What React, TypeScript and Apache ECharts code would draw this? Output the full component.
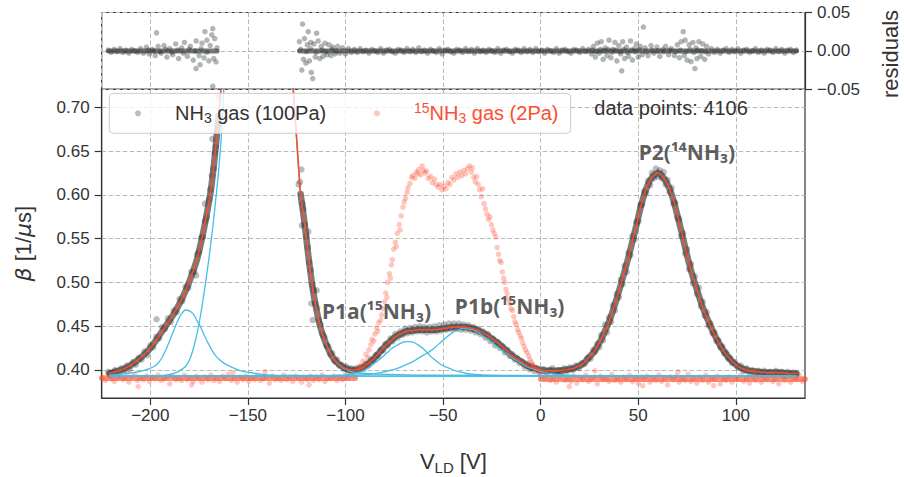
import React, { useEffect, useRef } from "react";
import * as echarts from "echarts";

// ---------------- data ----------------
const xTickValues = [-200, -150, -100, -50, 0, 50, 100];
const betaTickValues = [0.4, 0.45, 0.5, 0.55, 0.6, 0.65, 0.7];
const residualTickValues = [-0.05, 0, 0.05];
const X_MIN = -224.9;
const X_MAX = 135.4;
const BETA_MIN = 0.368;
const BETA_MAX = 0.7206;
const dataPointsCount = 4106;

// NH3 gas (100Pa) measured points (sampled from the dense cloud)
const nh3Data: number[][] = [
  [-221.5, 0.398], [-220.5, 0.394], [-219.5, 0.397], [-218, 0.4], [-216.5, 0.396], [-215, 0.402], [-213.5, 0.399], [-212, 0.405],
  [-210.5, 0.401], [-209, 0.409], [-207.5, 0.406], [-206, 0.414], [-204.5, 0.412], [-203, 0.421], [-201.5, 0.417], [-200, 0.428],
  [-198.5, 0.426], [-197, 0.438], [-196.8, 0.458], [-195.5, 0.436], [-194, 0.449], [-192.5, 0.447], [-191, 0.459], [-189.5, 0.455],
  [-188, 0.468], [-186.5, 0.466], [-185, 0.481], [-183.5, 0.479], [-182, 0.495], [-180.5, 0.494], [-179, 0.512], [-177.5, 0.512],
  [-176.6, 0.508], [-176, 0.532], [-175, 0.535], [-174, 0.551], [-173, 0.552], [-172, 0.59], [-172, 0.57], [-171, 0.574],
  [-170, 0.595], [-169.3, 0.606], [-168.5, 0.622], [-168.2, 0.664], [-167.6, 0.63], [-167, 0.648], [-166.5, 0.655], [-166, 0.672],
  [-165.5, 0.68], [-165.1, 0.712],
  [-124, 0.612], [-123.3, 0.615], [-122.6, 0.629], [-122.4, 0.565], [-122, 0.59], [-121.5, 0.584], [-120.8, 0.566], [-120, 0.552],
  [-119.3, 0.54], [-119.1, 0.558], [-118.6, 0.523], [-117.8, 0.514], [-117.5, 0.476], [-117, 0.497], [-116.8, 0.457], [-116.2, 0.491],
  [-115.4, 0.476], [-114.8, 0.491], [-114.5, 0.471], [-113.6, 0.457], [-112.7, 0.452], [-111.8, 0.441], [-110.8, 0.438], [-109.8, 0.428],
  [-108.8, 0.427], [-107.8, 0.418], [-106.8, 0.419], [-105.6, 0.41], [-104.4, 0.412], [-103.2, 0.405], [-102, 0.406], [-100.8, 0.401],
  [-99.5, 0.404], [-98.2, 0.399], [-97, 0.402], [-95.8, 0.398],
  [-94.5, 0.402], [-93.2, 0.399], [-92, 0.404], [-90.8, 0.401], [-89.5, 0.407], [-88.3, 0.405], [-87, 0.412], [-85.8, 0.411],
  [-84.5, 0.417], [-83.3, 0.416], [-82, 0.423], [-80.8, 0.422], [-79.5, 0.43], [-78.3, 0.428], [-77, 0.436], [-75.8, 0.433],
  [-74.5, 0.441], [-73.3, 0.437], [-72, 0.444], [-70.8, 0.44], [-69.5, 0.447], [-68.3, 0.442], [-67, 0.448], [-65.8, 0.443],
  [-64.5, 0.449], [-63.3, 0.444], [-62, 0.45], [-60.8, 0.444], [-59.5, 0.449], [-58.3, 0.443], [-57, 0.449], [-55.8, 0.444],
  [-54.5, 0.45], [-53.3, 0.444], [-52, 0.451], [-50.8, 0.445], [-49.5, 0.452], [-48.3, 0.446], [-47, 0.453], [-45.8, 0.447],
  [-44.5, 0.453], [-43.3, 0.447], [-42, 0.453], [-40.8, 0.446], [-39.5, 0.452], [-38.3, 0.446], [-37, 0.451], [-35.8, 0.445],
  [-34.5, 0.449], [-33.3, 0.443], [-32, 0.447], [-30.8, 0.441], [-29.5, 0.444], [-28.3, 0.437], [-27, 0.441], [-25.8, 0.433],
  [-24.5, 0.436], [-23.3, 0.428], [-22, 0.432], [-20.8, 0.425], [-19.5, 0.427], [-18.3, 0.42], [-17, 0.423], [-15.8, 0.416],
  [-14.5, 0.418], [-13.3, 0.412], [-12, 0.413], [-10.8, 0.408], [-9.5, 0.41], [-8.3, 0.404], [-7, 0.407], [-5.8, 0.401],
  [-4.5, 0.405], [-3.3, 0.399], [-2, 0.402], [-0.8, 0.398],
  [1.5, 0.401], [3, 0.397], [4.5, 0.4], [6, 0.402], [7.5, 0.397], [9, 0.4], [10.5, 0.398], [12, 0.402],
  [13.5, 0.399], [15, 0.403], [16.5, 0.4], [18, 0.405], [19.5, 0.402], [21, 0.408], [22.5, 0.407], [24, 0.414],
  [25.5, 0.413], [27, 0.423], [28, 0.421], [29, 0.43], [30, 0.426], [31, 0.44], [32, 0.434], [33, 0.452],
  [34, 0.443], [35, 0.46], [36, 0.455], [37, 0.474], [38, 0.468], [39, 0.487], [40, 0.483], [41, 0.503],
  [42, 0.498], [43, 0.519], [44, 0.512], [45, 0.534], [46, 0.531], [47, 0.553], [48, 0.549], [49, 0.569],
  [50, 0.57], [51, 0.588], [52, 0.589], [53, 0.604], [54, 0.602], [55, 0.616], [56, 0.611], [57, 0.625],
  [58, 0.619], [59, 0.63], [60, 0.621], [61, 0.628], [62, 0.619], [63, 0.626], [64, 0.612], [65, 0.617],
  [66, 0.603], [67, 0.608], [68, 0.59], [69, 0.591], [70, 0.574], [71, 0.572], [72, 0.553], [73, 0.556],
  [74, 0.533], [75, 0.538], [76, 0.515], [77, 0.521], [78, 0.499], [79, 0.507], [80, 0.487], [81, 0.494],
  [82, 0.473], [83, 0.478], [84, 0.462], [85, 0.466], [86, 0.451], [87, 0.453], [88, 0.442], [89, 0.443],
  [90, 0.433], [91, 0.434], [92, 0.426], [93, 0.427], [94, 0.419], [95, 0.42], [96, 0.413], [97, 0.414],
  [98, 0.408], [99.5, 0.409], [101, 0.403], [102.5, 0.405], [104, 0.399], [105.5, 0.402], [107, 0.397], [108.5, 0.4],
  [110, 0.396], [111.5, 0.399], [113, 0.395], [114.5, 0.399], [116, 0.396], [117.5, 0.398], [119, 0.395], [120.5, 0.399],
  [122, 0.396], [123.5, 0.398], [125, 0.394], [126.5, 0.398], [128, 0.395], [129.5, 0.397], [131, 0.395],
];

// 15NH3 gas (2Pa) measured points
const n15Data: number[][] = [
  [-224.5, 0.392], [-223, 0.388], [-221.5, 0.394], [-220, 0.39], [-218.5, 0.387], [-217, 0.391], [-215.5, 0.393], [-214, 0.389],
  [-212.5, 0.391], [-211, 0.386], [-209.5, 0.392], [-208, 0.395], [-206.5, 0.388], [-205, 0.391], [-203.5, 0.389], [-202, 0.393],
  [-200.5, 0.387], [-199, 0.392], [-197.5, 0.39], [-196, 0.394], [-194.5, 0.388], [-193, 0.39], [-191.5, 0.392], [-190, 0.384],
  [-188.5, 0.393], [-187, 0.389], [-185.5, 0.391], [-184, 0.388], [-182.5, 0.394], [-181, 0.389], [-179.5, 0.391], [-178, 0.387],
  [-176.5, 0.393], [-175, 0.39], [-173.5, 0.386], [-172, 0.392], [-170.5, 0.389], [-169, 0.394], [-167.5, 0.388], [-166, 0.391],
  [-164.5, 0.387], [-163, 0.393], [-161.5, 0.39], [-160, 0.395], [-158.5, 0.388], [-157, 0.391], [-155.5, 0.386], [-154, 0.392],
  [-152.5, 0.389], [-151, 0.393], [-149.5, 0.387], [-148, 0.391], [-146.5, 0.389], [-145, 0.394], [-143.5, 0.388], [-142, 0.39],
  [-140.5, 0.392], [-139, 0.385], [-137.5, 0.393], [-136, 0.389], [-134.5, 0.391], [-133, 0.388], [-131.5, 0.394], [-130, 0.389],
  [-128.5, 0.392], [-127, 0.387], [-125.5, 0.393], [-124, 0.39], [-122.5, 0.386], [-121, 0.391], [-119.5, 0.389], [-118, 0.393],
  [-116.5, 0.388], [-115, 0.392], [-113.5, 0.389], [-112, 0.394], [-110.5, 0.387], [-109, 0.391], [-107.5, 0.39], [-106, 0.393],
  [-104.5, 0.388], [-103, 0.392], [-101.5, 0.389], [-100, 0.394], [-98.5, 0.391], [-97, 0.395], [-95.5, 0.393],
  [-206.2, 0.381], [-211.8, 0.397], [-178.8, 0.383], [-141.2, 0.398], [-118.7, 0.383], [-157.6, 0.397],
  [-94, 0.399], [-93, 0.404], [-92, 0.402], [-91, 0.41], [-90, 0.407], [-89.5, 0.418], [-88.5, 0.414], [-88, 0.423],
  [-87, 0.429], [-86.5, 0.435], [-85.5, 0.433], [-85, 0.441], [-84, 0.448], [-83.5, 0.444], [-83, 0.454], [-82, 0.457],
  [-81.5, 0.463], [-81, 0.47], [-80, 0.478], [-79.4, 0.488], [-78.8, 0.483], [-78.5, 0.5], [-77.5, 0.51], [-77, 0.505],
  [-76.5, 0.52], [-76, 0.526], [-75.3, 0.538], [-74.5, 0.546], [-74, 0.541], [-73.5, 0.556], [-72.5, 0.566], [-72, 0.56],
  [-71.5, 0.576], [-70.5, 0.586], [-70, 0.592], [-69.2, 0.596], [-68.5, 0.603], [-68, 0.608], [-67, 0.613], [-66.2, 0.62],
  [-65.5, 0.622], [-64.5, 0.619], [-63.8, 0.626], [-63, 0.624], [-62.5, 0.629], [-61.5, 0.623], [-60.8, 0.633], [-60, 0.628],
  [-59.3, 0.625], [-58.5, 0.627], [-57.6, 0.619], [-56.5, 0.621], [-55.5, 0.614], [-54.5, 0.618], [-53.5, 0.612], [-52.5, 0.609],
  [-51.5, 0.612], [-50.5, 0.606], [-49.5, 0.61], [-48.5, 0.607], [-47.5, 0.614], [-46.5, 0.612], [-45.5, 0.62], [-44.5, 0.617],
  [-43.5, 0.624], [-42.5, 0.62], [-41.5, 0.626], [-40.5, 0.622], [-39.5, 0.628], [-38.5, 0.624], [-37.5, 0.63], [-36.5, 0.633],
  [-35.5, 0.626], [-35, 0.631], [-34.3, 0.62], [-33.5, 0.615], [-32.8, 0.621], [-32, 0.612], [-31.3, 0.606], [-30.5, 0.598],
  [-29.8, 0.607], [-29, 0.59], [-28.3, 0.584], [-27.5, 0.578], [-26.8, 0.572], [-26, 0.575], [-25.2, 0.566], [-24.5, 0.56],
  [-23.8, 0.556], [-23, 0.552], [-22.3, 0.54], [-21.6, 0.532], [-21, 0.525], [-20.3, 0.523], [-19.6, 0.512], [-19, 0.505],
  [-18.4, 0.5], [-17.8, 0.492], [-17.2, 0.487], [-16.5, 0.481], [-15.8, 0.476], [-15.2, 0.47], [-14.5, 0.468], [-13.8, 0.461],
  [-13.2, 0.455], [-12.5, 0.452], [-11.8, 0.446], [-11.2, 0.443], [-10.5, 0.439], [-9.8, 0.436], [-9.2, 0.431], [-8.5, 0.427],
  [-7.8, 0.423], [-7, 0.42], [-6.2, 0.416], [-5.5, 0.412], [-4.8, 0.409], [-4, 0.406], [-3.2, 0.403], [-2.5, 0.401],
  [-1.5, 0.399], [-0.5, 0.397],
  [0.5, 0.393], [2, 0.39], [3.5, 0.394], [5, 0.388], [6.5, 0.391], [8, 0.386], [9.5, 0.392], [11, 0.395],
  [12.5, 0.388], [14, 0.391], [15.5, 0.387], [17, 0.393], [18.5, 0.385], [20, 0.392], [21.5, 0.389], [23, 0.394],
  [24.5, 0.387], [26, 0.39], [27.5, 0.392], [29, 0.384], [30.5, 0.393], [32, 0.389], [33.5, 0.391], [35, 0.387],
  [36.5, 0.395], [38, 0.388], [39.5, 0.391], [41, 0.386], [42.5, 0.392], [44, 0.389], [45.5, 0.394], [47, 0.387],
  [48.5, 0.39], [50, 0.385], [51.5, 0.392], [53, 0.389], [54.5, 0.393], [56, 0.386], [57.5, 0.391], [59, 0.388],
  [60.5, 0.394], [62, 0.387], [63.5, 0.39], [65, 0.383], [66.5, 0.392], [68, 0.389], [69.5, 0.393], [71, 0.386],
  [72.5, 0.391], [74, 0.388], [75.5, 0.395], [77, 0.387], [78.5, 0.39], [80, 0.385], [81.5, 0.392], [83, 0.388],
  [84.5, 0.394], [86, 0.386], [87.5, 0.391], [89, 0.389], [90.5, 0.393], [92, 0.384], [93.5, 0.39], [95, 0.388],
  [96.5, 0.392], [98, 0.386], [99.5, 0.391], [101, 0.389], [102.5, 0.394], [104, 0.387], [105.5, 0.39], [107, 0.385],
  [108.5, 0.392], [110, 0.388], [111.5, 0.393], [113, 0.386], [114.5, 0.391], [116, 0.389], [117.5, 0.394], [119, 0.387],
  [120.5, 0.39], [122, 0.384], [123.5, 0.392], [125, 0.388], [126.5, 0.393], [128, 0.386], [129.5, 0.391], [131, 0.389],
  [132.5, 0.394], [134, 0.387], [135, 0.39],
  [14.6, 0.381], [27.8, 0.399], [52.3, 0.382], [70.4, 0.398], [88.6, 0.382], [109.3, 0.398],
];

// dense core of the 15NH3 cloud on its flat baseline (null = no baseline there)
const n15BaselineCore: (number | null)[][] = [
  [-224.9, 0.3905], [-95, 0.3905], [-50, null], [0, 0.3895], [135.4, 0.3895],
];

// residuals of the NH3 fit
const residualData: number[][] = [
  [-221.5, 0.001], [-220, -0.002], [-218.5, 0.002], [-217, -0.001], [-215.5, 0.003], [-214, -0.002], [-212.5, 0.001], [-211, -0.003],
  [-209.5, 0.002], [-208, 0.0], [-206.5, -0.002], [-205, 0.003],
  [-203.5, -0.003], [-202, 0.005], [-201, 0.001], [-200.5, -0.004], [-199, 0.002], [-198, 0.0], [-197.5, -0.006], [-196.8, 0.0235],
  [-196, 0.006], [-195, -0.001], [-194.5, -0.003], [-193, 0.007], [-192, 0.002], [-191.5, -0.008], [-190, 0.003], [-189, -0.002],
  [-188.5, -0.005], [-187, 0.009], [-186, 0.001], [-185.5, -0.01], [-184, 0.004], [-183, -0.003], [-182.5, 0.011], [-181, -0.007],
  [-180, 0.002], [-179.5, 0.006], [-178, -0.012], [-177, 0.0], [-176.6, -0.023], [-176.5, 0.013], [-175, -0.006], [-174.5, -0.018],
  [-174, 0.003], [-173.5, 0.01], [-172.5, -0.009], [-172, 0.025], [-171, 0.014], [-171, -0.002], [-170, -0.013], [-169.3, 0.007],
  [-168.5, 0.021], [-168, 0.029], [-168, -0.046], [-167.5, -0.01], [-167, 0.016], [-166.3, -0.0144], [-165.8, 0.004],
  [-123.6, 0.012], [-123, 0.002], [-122.4, -0.025], [-122, 0.035], [-121.5, -0.011], [-121, 0.016], [-120.3, -0.016], [-120, -0.001],
  [-119.6, 0.008], [-119.1, 0.025], [-118.5, -0.013], [-118, 0.003], [-117.8, 0.011], [-117.5, -0.028], [-116.8, -0.036], [-116.2, 0.009],
  [-115.5, -0.008], [-115, -0.002], [-114.8, 0.023], [-114, 0.013], [-113.2, -0.01], [-112.4, 0.006], [-112, 0.001], [-111.5, -0.007],
  [-110.5, 0.01], [-110, -0.001], [-109.5, -0.005], [-108.5, 0.008], [-107.5, -0.006], [-107, 0.002], [-106.5, 0.005], [-105.3, -0.004],
  [-104.8, 0.0], [-104, 0.006], [-102.8, -0.003], [-101.5, 0.004], [-100, -0.004], [-98.5, 0.003], [-97, -0.002],
  [-95.5, 0.002], [-94, -0.002], [-92.5, 0.003], [-91, -0.001], [-89.5, 0.001], [-88, -0.003], [-86.5, 0.002], [-85, 0.0],
  [-83.5, -0.002], [-82, 0.003], [-80.5, -0.003], [-79, 0.001], [-77.5, 0.002], [-76, -0.001], [-74.5, -0.003], [-73, 0.002],
  [-71.5, 0.001], [-70, -0.002], [-68.5, 0.003], [-67, -0.001], [-65.5, 0.002], [-64, -0.002], [-62.5, 0.004], [-61, -0.001],
  [-59.5, 0.001], [-58, -0.003], [-56.5, 0.002], [-55, 0.0], [-53.5, -0.002], [-52, 0.003], [-50.5, -0.004], [-49, 0.001],
  [-47.5, 0.002], [-46, -0.001], [-44.5, -0.003], [-43, 0.002], [-41.5, 0.001], [-40, -0.002], [-38.5, 0.003], [-37, -0.001],
  [-35.5, 0.002], [-34, -0.003], [-32.5, 0.003], [-31, -0.001], [-29.5, 0.001], [-28, -0.002], [-26.5, 0.002], [-25, 0.0],
  [-23.5, -0.002], [-22, 0.003], [-20.5, -0.003], [-19, 0.001], [-17.5, 0.002], [-16, -0.001], [-14.5, -0.003], [-13, 0.002],
  [-11.5, 0.001], [-10, -0.002], [-8.5, 0.003], [-7, -0.001], [-5.5, 0.002], [-4, -0.002], [-2.5, 0.003], [-1, -0.001],
  [0.5, 0.001], [2, -0.003], [3.5, 0.002], [5, 0.0], [6.5, -0.002], [8, 0.003], [9.5, -0.003], [11, 0.001],
  [12.5, 0.002], [14, -0.001], [15.5, -0.003], [17, 0.002], [18.5, 0.001], [20, -0.002], [21.5, 0.003], [23, -0.001],
  [24.5, 0.002],
  [26, -0.004], [26.5, 0.001], [27, 0.006], [28, -0.008], [28.5, -0.001], [29, 0.01], [30, -0.003], [30.5, 0.002],
  [31, 0.012], [32, -0.011], [32.5, 0.0], [33, 0.004], [34, -0.006], [34.5, 0.002], [35, 0.014], [36, -0.009],
  [36.5, -0.002], [37, 0.002], [38, 0.011], [38.5, 0.001], [39, -0.013], [40, 0.007], [40.5, -0.001], [41, -0.004],
  [41.5, -0.026], [42, 0.012], [42.5, 0.002], [43, -0.01], [44, 0.005], [44.5, -0.002], [45, -0.007], [46, 0.013],
  [46.5, 0.001], [47, -0.012], [48, 0.003], [48.5, -0.001], [49, 0.009], [50, -0.008], [50.5, 0.002], [51, 0.006],
  [52, -0.005], [52.6, 0.031],
  [53.5, 0.004], [54, -0.001], [55, -0.006], [56.5, 0.007], [57, 0.001], [58, -0.003], [59.5, 0.005], [60, 0.0],
  [61, -0.007], [62.5, 0.002], [63, -0.001], [64, 0.006], [65.5, -0.005], [66, 0.001], [67, 0.003], [68.5, -0.006],
  [69, -0.001], [70, 0.008],
  [71, -0.009], [71.5, 0.001], [72, 0.012], [73, 0.025], [73.5, -0.006], [74, 0.014], [74.5, -0.001], [75, -0.012],
  [76, 0.008], [76.5, 0.002], [77, -0.014], [78, 0.011], [78.5, -0.002], [79, -0.023], [79.5, 0.004], [80, -0.01],
  [80.5, 0.001], [81, 0.012], [82, -0.007], [82.5, 0.0], [83, 0.009], [84, -0.011], [84.5, -0.001], [85, 0.006],
  [86, -0.004],
  [87.5, 0.003], [89, -0.002], [90.5, 0.002], [92, -0.003], [93.5, 0.001], [95, 0.003], [96.5, -0.002], [98, 0.002],
  [99.5, -0.001], [101, 0.003], [102.5, -0.003], [104, 0.001], [105.5, 0.002], [107, -0.002], [108.5, 0.0], [110, 0.003],
  [111.5, -0.002], [113, 0.001], [114.5, -0.003], [116, 0.002], [117.5, 0.001], [119, -0.002], [120.5, 0.003], [122, -0.001],
  [123.5, 0.002], [125, -0.003], [126.5, 0.001], [128, 0.002], [129.5, -0.002], [131, 0.001],
];
// dense core of the residual cloud (null = no data there)
const residualCore: (number | null)[][] = [
  [-221.5, 0], [-165.8, 0], [-145, null], [-123.6, 0], [131, 0],
];

// total fit (red line)
const fitCurve: number[][] = [
  [-221, 0.396], [-218, 0.398], [-215, 0.4], [-212, 0.403], [-209, 0.407], [-206, 0.412], [-203, 0.418], [-200, 0.425],
  [-197, 0.434], [-194, 0.444], [-191, 0.454], [-188, 0.464], [-185, 0.476], [-182, 0.49], [-179, 0.507], [-176, 0.527],
  [-173, 0.556], [-171, 0.579], [-169, 0.605], [-167, 0.643], [-165, 0.69], [-163, 0.74], [-161, 0.8], [-158, 1.0],
  [-150, 1.6], [-140, 1.6], [-132, 1.0], [-129, 0.8], [-127, 0.728], [-125, 0.663], [-123, 0.601], [-121, 0.568],
  [-119, 0.53], [-117, 0.496], [-115, 0.47], [-113, 0.45], [-111, 0.436], [-109, 0.425], [-107, 0.416], [-105, 0.41],
  [-103, 0.406], [-101, 0.403], [-99, 0.401], [-97, 0.4], [-95, 0.4], [-93, 0.401], [-91, 0.403], [-89, 0.406],
  [-87, 0.41], [-85, 0.414], [-83, 0.419], [-81, 0.424], [-79, 0.429], [-77, 0.433], [-75, 0.437], [-73, 0.44],
  [-71, 0.442], [-69, 0.444], [-66, 0.445], [-63, 0.446], [-60, 0.446], [-57, 0.446], [-54, 0.446], [-51, 0.447],
  [-48, 0.448], [-45, 0.449], [-42, 0.449], [-39, 0.449], [-36, 0.448], [-33, 0.446], [-30, 0.443], [-27, 0.439],
  [-24, 0.434], [-21, 0.429], [-19, 0.425], [-17, 0.421], [-15, 0.417], [-13, 0.414], [-11, 0.411], [-9, 0.408],
  [-7, 0.405], [-5, 0.403], [-3, 0.402], [0, 0.4], [3, 0.399], [6, 0.399], [9, 0.399], [12, 0.4],
  [15, 0.401], [17, 0.402], [19, 0.404], [21, 0.406], [23, 0.41], [25, 0.415], [27, 0.42], [29, 0.427],
  [31, 0.435], [33, 0.445], [35, 0.455], [37, 0.468], [39, 0.482], [41, 0.497], [43, 0.513], [45, 0.529],
  [47, 0.547], [49, 0.565], [51, 0.584], [53, 0.6], [55, 0.612], [57, 0.62], [59, 0.624], [60, 0.625],
  [62, 0.622], [64, 0.616], [66, 0.607], [68, 0.594], [70, 0.577], [72, 0.559], [74, 0.54], [76, 0.522],
  [78, 0.506], [80, 0.492], [82, 0.478], [84, 0.466], [86, 0.455], [88, 0.445], [90, 0.436], [92, 0.428],
  [94, 0.421], [96, 0.415], [98, 0.41], [100, 0.406], [102, 0.403], [104, 0.401], [107, 0.399], [111, 0.398],
  [116, 0.397], [122, 0.397], [127, 0.396], [131, 0.396],
];
// x-range that holds no NH3 data points (between the two visible flanks of the big peak)
const nh3GapRange = [-165, -124];

// fit components (blue lines)
const compBaseline: number[][] = [[-221, 0.393], [131, 0.393]];
const compG1: number[][] = [
  [-221, 0.394], [-212, 0.396], [-204, 0.399], [-198, 0.404], [-196, 0.408], [-194, 0.414], [-192, 0.423], [-190, 0.434],
  [-188, 0.445], [-186, 0.456], [-184, 0.464], [-182, 0.4685], [-180, 0.4675], [-178, 0.464], [-176, 0.456], [-174, 0.448],
  [-172, 0.438], [-170, 0.429], [-168, 0.421], [-166, 0.415], [-163, 0.409], [-160, 0.405], [-156, 0.401], [-152, 0.398],
  [-146, 0.396], [-138, 0.394], [-126, 0.3935], [-110, 0.393], [131, 0.393],
];
const compBig: number[][] = [
  [-221, 0.393], [-200, 0.393], [-192, 0.394], [-188, 0.396], [-185, 0.399], [-182, 0.404], [-180, 0.411], [-178, 0.424],
  [-176, 0.442], [-174, 0.466], [-172, 0.495], [-170, 0.527], [-168, 0.563], [-166, 0.605], [-165, 0.628], [-164, 0.655],
  [-163, 0.69], [-162, 0.74], [-161, 0.79], [-158, 1.0], [-150, 1.6], [-140, 1.6], [-132, 1.0], [-129, 0.8],
  [-127, 0.728], [-125, 0.663], [-123, 0.601], [-121, 0.568], [-119, 0.53], [-117, 0.496], [-115, 0.47], [-113, 0.45],
  [-111, 0.436], [-109, 0.425], [-107, 0.416], [-105, 0.41], [-103, 0.405], [-101, 0.402], [-99, 0.4], [-97, 0.398],
  [-95, 0.397], [-90, 0.396], [-80, 0.395], [-60, 0.394], [131, 0.393],
];
const compP1a: number[][] = [
  [-221, 0.393], [-105, 0.394], [-98, 0.395], [-94, 0.397], [-91, 0.399], [-88, 0.403], [-85, 0.408], [-82, 0.413],
  [-79, 0.419], [-76, 0.425], [-73, 0.429], [-70, 0.432], [-68, 0.4325], [-66, 0.432], [-63, 0.429], [-60, 0.424],
  [-57, 0.417], [-54, 0.411], [-51, 0.406], [-48, 0.403], [-45, 0.4], [-42, 0.398], [-38, 0.396], [-34, 0.395],
  [-28, 0.394], [-18, 0.3935], [0, 0.393], [131, 0.393],
];
const compP1b: number[][] = [
  [-221, 0.393], [-110, 0.393], [-95, 0.394], [-88, 0.395], [-82, 0.397], [-76, 0.4], [-72, 0.403], [-69, 0.406],
  [-66, 0.409], [-63, 0.413], [-60, 0.417], [-57, 0.421], [-54, 0.426], [-51, 0.432], [-48, 0.438], [-45, 0.443],
  [-42, 0.446], [-40, 0.4475], [-38, 0.447], [-35, 0.446], [-32, 0.443], [-29, 0.438], [-26, 0.434], [-23, 0.428],
  [-20, 0.423], [-17, 0.418], [-14, 0.413], [-11, 0.409], [-8, 0.405], [-5, 0.402], [-2, 0.4], [2, 0.397],
  [8, 0.395], [15, 0.394], [30, 0.393], [131, 0.393],
];

const peakLabels = [
  { name: "P1a(¹⁵NH₃)", value: [-84.1, 0.4674] },
  { name: "P1b(¹⁵NH₃)", value: [-15.9, 0.4734] },
  { name: "P2(¹⁴NH₃)", value: [74.9, 0.6486] },
];

// ---------------- styles ----------------
const FONT = "'Liberation Sans', Arial, Helvetica, sans-serif";
const TXT = "#333333";
const AX = "#333333";
const GRIDC = "#b8b8b8";
const BLACK_PT = "rgba(44,48,51,0.4)";
const BLACK_CORE = "rgba(50,54,56,0.66)";
const RED = "#fc4f30";
const RED_PT = "rgba(252,79,48,0.4)";
const RED_CORE = "rgba(242,78,46,0.6)";
const BLUE = "#45bde6";
const FIT = "#f4502b";

// dense centre of the NH3 cloud follows the fit where data exist
const nh3Core = fitCurve.map(([x, y]) =>
  x > nh3GapRange[0] && x < nh3GapRange[1] ? [x, null] : [x, y]
);

const splitLineStyle = { show: true, lineStyle: { color: GRIDC, width: 1, type: [4.5, 2.5] } };
const minusFmt = (v: number, digits: number) =>
  (v < 0 ? "\u2212" : "") + (digits > 0 ? Math.abs(v).toFixed(digits) : String(Math.abs(v)));

const blueLine = (name: string, data: number[][]) => ({
  name,
  type: "line",
  xAxisIndex: 1,
  yAxisIndex: 1,
  data,
  symbol: "none",
  smooth: 0.3,
  silent: true,
  z: 4,
  lineStyle: { color: BLUE, width: 1.3 },
});

const coreLine = (name: string, data: any[], color: string, width: number, xi: number, yi: number, z: number) => ({
  name,
  type: "line",
  xAxisIndex: xi,
  yAxisIndex: yi,
  data,
  symbol: "none",
  smooth: 0.3,
  connectNulls: false,
  silent: true,
  z,
  lineStyle: { color, width, cap: "round" },
});

const legendRich = {
  a: { fontSize: 20, fontFamily: FONT, lineHeight: 24 },
  s: { fontSize: 14, fontFamily: FONT, lineHeight: 14, verticalAlign: "bottom" },
  p: { fontSize: 14, fontFamily: FONT, lineHeight: 14, verticalAlign: "top" },
};
const richWithFill = (fill: string) => {
  const out: any = {};
  Object.keys(legendRich).forEach((k) => {
    out[k] = { ...(legendRich as any)[k], fill };
  });
  return out;
};

const option: any = {
  animation: false,
  backgroundColor: "#ffffff",
  textStyle: { fontFamily: FONT },
  grid: [
    {
      left: 101.7, top: 12.5, width: 703.3, height: 76.8, show: true,
      borderColor: AX, borderWidth: 1.2, backgroundColor: "transparent",
      containLabel: false, outerBoundsMode: "none",
    },
    {
      left: 101.7, top: 89.3, width: 703.3, height: 308.7, show: true,
      borderColor: AX, borderWidth: 1.2, backgroundColor: "transparent",
      containLabel: false, outerBoundsMode: "none",
    },
  ],
  xAxis: [
    {
      gridIndex: 0, type: "value", min: X_MIN, max: X_MAX, splitNumber: 7,
      axisLine: { show: false, onZero: false }, axisTick: { show: false }, axisLabel: { show: false },
      splitLine: splitLineStyle,
    },
    {
      gridIndex: 1, type: "value", min: X_MIN, max: X_MAX, splitNumber: 7,
      axisLine: { show: true, onZero: false, lineStyle: { color: AX, width: 1.2 } },
      axisTick: { show: true, inside: false, length: 7, customValues: xTickValues, lineStyle: { color: AX, width: 1.2 } },
      axisLabel: {
        customValues: xTickValues, fontSize: 17, color: TXT, margin: 9, fontFamily: FONT,
        formatter: (v: number) => minusFmt(v, 0),
      },
      splitLine: splitLineStyle,
      name: "{a|V}{s|LD}{a| [V]}",
      nameLocation: "middle",
      nameGap: 49,
      nameTextStyle: {
        color: TXT,
        fontFamily: FONT,
        rich: {
          a: { fontSize: 22, lineHeight: 28, color: TXT, fontFamily: FONT },
          s: { fontSize: 15, lineHeight: 15, color: TXT, fontFamily: FONT, verticalAlign: "bottom" },
        },
      },
    },
  ],
  yAxis: [
    {
      gridIndex: 0, type: "value", position: "right", min: -0.05, max: 0.05, interval: 0.05,
      axisLine: { show: true, onZero: false, lineStyle: { color: AX, width: 1.2 } },
      axisTick: { show: true, inside: false, length: 7, customValues: residualTickValues, lineStyle: { color: AX, width: 1.2 } },
      axisLabel: {
        customValues: residualTickValues, fontSize: 17, color: TXT, margin: 12, fontFamily: FONT,
        formatter: (v: number) => minusFmt(v, 2),
      },
      splitLine: splitLineStyle,
    },
    {
      gridIndex: 1, type: "value", min: BETA_MIN, max: BETA_MAX, splitNumber: 7,
      axisLine: { show: true, onZero: false, lineStyle: { color: AX, width: 1.2 } },
      axisTick: { show: true, inside: false, length: 7, customValues: betaTickValues, lineStyle: { color: AX, width: 1.2 } },
      axisLabel: {
        customValues: betaTickValues, fontSize: 17, color: TXT, margin: 12, fontFamily: FONT,
        formatter: (v: number) => v.toFixed(2),
      },
      splitLine: splitLineStyle,
      name: "{i|β} [1/{i|μ}s]",
      nameLocation: "middle",
      nameGap: 67,
      nameTextStyle: {
        fontSize: 22,
        color: TXT,
        fontFamily: FONT,
        rich: {
          i: { fontSize: 22, color: TXT, fontFamily: "'DejaVu Sans', sans-serif", fontStyle: "italic" },
        },
      },
    },
  ],
  series: [
    coreLine("NH3 cloud core", nh3Core, BLACK_CORE, 6.5, 1, 1, 1),
    {
      name: "NH3 gas (100Pa)", type: "scatter", xAxisIndex: 1, yAxisIndex: 1, data: nh3Data,
      symbolSize: 6.5, silent: true, z: 2, itemStyle: { color: BLACK_PT },
    },
    coreLine("15NH3 cloud core", n15BaselineCore, RED_CORE, 5.5, 1, 1, 3),
    {
      name: "15NH3 gas (2Pa)", type: "scatter", xAxisIndex: 1, yAxisIndex: 1, data: n15Data,
      symbolSize: 5.5, silent: true, z: 3, itemStyle: { color: RED_PT },
    },
    blueLine("baseline", compBaseline),
    blueLine("G1", compG1),
    blueLine("main peak", compBig),
    blueLine("P1a", compP1a),
    blueLine("P1b", compP1b),
    {
      name: "fit", type: "line", xAxisIndex: 1, yAxisIndex: 1, data: fitCurve, symbol: "none",
      smooth: 0.3, silent: true, z: 5, lineStyle: { color: FIT, width: 1.6 },
    },
    coreLine("residual core", residualCore, BLACK_CORE, 5, 0, 0, 1),
    {
      name: "residuals", type: "scatter", xAxisIndex: 0, yAxisIndex: 0, data: residualData,
      symbolSize: 5.5, silent: true, z: 2, itemStyle: { color: "rgba(44,48,51,0.45)" },
    },
    {
      name: "peaks", type: "scatter", xAxisIndex: 1, yAxisIndex: 1, data: peakLabels,
      symbolSize: 1, silent: true, z: 6, itemStyle: { color: "rgba(0,0,0,0)" },
      label: {
        show: true, position: "inside", formatter: "{b}", fontSize: 21, fontWeight: "bold",
        fontFamily: "'Noto Sans', 'DejaVu Sans', sans-serif", color: "#333333",
      },
    },
  ],
  graphic: [
    {
      type: "rect", z: 100, silent: true,
      shape: { x: 109.3, y: 93.3, width: 461.4, height: 40, r: 4 },
      style: { fill: "rgba(255,255,255,0.8)", stroke: "#cccccc", lineWidth: 1 },
    },
    {
      type: "circle", z: 101, silent: true,
      shape: { cx: 138, cy: 113.3, r: 3 },
      style: { fill: "rgba(44,48,51,0.32)" },
    },
    {
      type: "text", z: 101, silent: true, x: 175, y: 113.3,
      style: {
        text: "{a|NH}{s|3}{a| gas (100Pa)}", rich: richWithFill(TXT), fill: TXT,
        fontSize: 20, fontFamily: FONT, verticalAlign: "middle", textVerticalAlign: "middle",
      },
    },
    {
      type: "circle", z: 101, silent: true,
      shape: { cx: 377, cy: 113.3, r: 3 },
      style: { fill: "rgba(252,79,48,0.32)" },
    },
    {
      type: "text", z: 101, silent: true, x: 414, y: 113.3,
      style: {
        text: "{p|15}{a|NH}{s|3}{a| gas (2Pa)}", rich: richWithFill(RED), fill: RED,
        fontSize: 20, fontFamily: FONT, verticalAlign: "middle", textVerticalAlign: "middle",
      },
    },
    {
      type: "text", z: 101, silent: true, x: 594.3, y: 108,
      style: {
        text: "data points: " + dataPointsCount, fill: TXT, fontSize: 20, fontFamily: FONT,
        verticalAlign: "middle", textVerticalAlign: "middle",
      },
    },
    {
      type: "text", z: 101, silent: true, x: 890, y: 54, rotation: Math.PI / 2,
      style: {
        text: "residuals", fill: TXT, fontSize: 22, fontFamily: FONT,
        align: "center", textAlign: "center", verticalAlign: "middle", textVerticalAlign: "middle",
      },
    },
  ],
};

export default function App() {
  const ref = useRef<HTMLDivElement>(null);
  useEffect(() => {
    if (!ref.current) return;
    const chart = echarts.init(ref.current, null, { renderer: "svg" });
    chart.setOption(option);
    return () => chart.dispose();
  }, []);
  return (
    <div
      ref={ref}
      style={{ position: "fixed", left: 0, top: 0, width: 904, height: 477, background: "#ffffff" }}
    />
  );
}
